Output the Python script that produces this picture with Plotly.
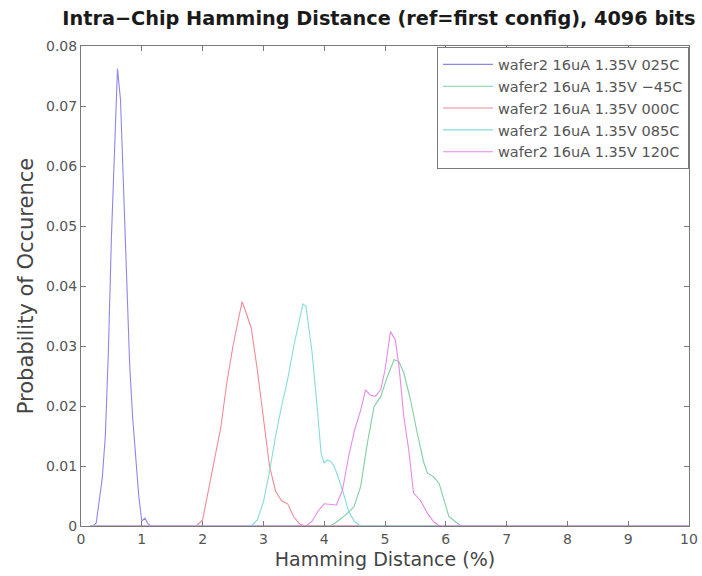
import plotly.graph_objects as go

# Hamming distance (%) and probability of occurrence per temperature setting
x_025 = [0.15, 0.20, 0.25, 0.30, 0.35, 0.40, 0.45, 0.50, 0.55, 0.60, 0.65, 0.70, 0.75,
         0.80, 0.85, 0.90, 0.95, 1.00, 1.05, 1.10, 1.15, 10.0]
y_025 = [0, 0, 0.0005, 0.004, 0.008, 0.015, 0.029, 0.048, 0.062, 0.0762, 0.071, 0.056, 0.041,
         0.027, 0.018, 0.012, 0.005, 0.0008, 0.0013, 0.0004, 0, 0]

x_m45 = [0.15, 4.10, 4.21, 4.35, 4.49, 4.60, 4.71, 4.82, 4.93, 5.04, 5.15, 5.23, 5.31, 5.42,
         5.53, 5.64, 5.70, 5.80, 5.89, 5.97, 6.05, 6.16, 6.25, 10.0]
y_m45 = [0, 0, 0.0007, 0.0018, 0.0032, 0.0066, 0.0138, 0.0199, 0.0216, 0.0249, 0.0277, 0.0274,
         0.0255, 0.021, 0.0155, 0.0105, 0.0088, 0.0082, 0.0071, 0.0043, 0.0016, 0.0007, 0, 0]

x_000 = [0.15, 1.90, 2.00, 2.10, 2.20, 2.30, 2.40, 2.50, 2.60, 2.65, 2.70, 2.80, 2.90, 3.00,
         3.10, 3.20, 3.30, 3.40, 3.50, 3.60, 3.70, 10.0]
y_000 = [0, 0, 0.001, 0.006, 0.011, 0.0165, 0.024, 0.030, 0.035, 0.0374, 0.036, 0.033, 0.026,
         0.018, 0.010, 0.0058, 0.0042, 0.0037, 0.0015, 0.0003, 0, 0]

x_085 = [0.15, 2.80, 2.90, 3.00, 3.10, 3.20, 3.30, 3.40, 3.50, 3.60, 3.65, 3.70, 3.80, 3.90,
         3.95, 4.00, 4.05, 4.10, 4.15, 4.20, 4.30, 4.40, 4.50, 4.60, 10.0]
y_085 = [0, 0, 0.001, 0.004, 0.009, 0.015, 0.020, 0.0245, 0.030, 0.035, 0.037, 0.0366, 0.029,
         0.018, 0.012, 0.0105, 0.011, 0.0108, 0.0102, 0.009, 0.006, 0.0025, 0.0007, 0, 0]

x_120 = [0.15, 3.70, 3.80, 3.90, 4.00, 4.10, 4.20, 4.30, 4.40, 4.50, 4.60, 4.68, 4.76, 4.84,
         4.93, 5.00, 5.09, 5.17, 5.23, 5.31, 5.39, 5.47, 5.58, 5.70, 5.80, 5.90, 10.0]
y_120 = [0, 0, 0.0008, 0.0025, 0.0037, 0.0036, 0.0035, 0.006, 0.0115, 0.016, 0.0193, 0.0227,
         0.0218, 0.0216, 0.0227, 0.026, 0.0324, 0.031, 0.0266, 0.0182, 0.0127, 0.0055, 0.0043,
         0.0021, 0.0007, 0, 0]

series_names = ["wafer2 16uA 1.35V 025C", "wafer2 16uA 1.35V \u221245C",
                "wafer2 16uA 1.35V 000C", "wafer2 16uA 1.35V 085C",
                "wafer2 16uA 1.35V 120C"]
series_x = [x_025, x_m45, x_000, x_085, x_120]
series_y = [y_025, y_m45, y_000, y_085, y_120]
series_colors = ["#8c88ea", "#80cfa0", "#ee8b95", "#84dcdc", "#e68ae6"]

x_ticks = list(range(0, 11))
y_ticks = [0, 0.01, 0.02, 0.03, 0.04, 0.05, 0.06, 0.07, 0.08]
y_tick_text = ["0", "0.01", "0.02", "0.03", "0.04", "0.05", "0.06", "0.07", "0.08"]

fig = go.Figure()
for name, xs, ys, col in zip(series_names, series_x, series_y, series_colors):
    fig.add_trace(go.Scatter(x=xs, y=ys, mode="lines", name=name,
                             line=dict(color=col, width=1.1)))

axis_common = dict(showline=True, linecolor="#7a7a7a", linewidth=1, mirror="ticks",
                   ticks="inside", ticklen=5, tickcolor="#7a7a7a", showgrid=False,
                   zeroline=False, automargin=False,
                   tickfont=dict(family="DejaVu Sans", size=14, color="#555555"))

fig.update_layout(
    width=702, height=576,
    margin=dict(l=81, r=13, t=46, b=50),
    paper_bgcolor="white", plot_bgcolor="white",
    title=dict(text="<b>Intra\u2212Chip Hamming Distance (ref=first config), 4096 bits</b>",
               font=dict(family="DejaVu Sans", size=19.3, color="#1a1a1a"),
               x=0.49, xanchor="center", y=0.969, yanchor="middle", xref="paper",
               yref="container"),
    xaxis=dict(range=[0, 10], tickvals=x_ticks, ticktext=[str(v) for v in x_ticks],
               title=dict(text="Hamming Distance (%)", standoff=6,
                          font=dict(family="DejaVu Sans", size=19, color="#444444")),
               **axis_common),
    yaxis=dict(range=[0, 0.08], tickvals=y_ticks, ticktext=y_tick_text,
               title=dict(text="Probability of Occurence", standoff=6,
                          font=dict(family="DejaVu Sans", size=21, color="#444444")),
               **axis_common),
    legend=dict(x=1.0, y=0.997, xanchor="right", yanchor="top",
                bgcolor="white", bordercolor="#7a7a7a", borderwidth=1,
                font=dict(family="DejaVu Sans", size=14.5, color="#555555"),
                itemwidth=50, tracegroupgap=0),
    showlegend=True,
)

fig.write_html("out.html")
